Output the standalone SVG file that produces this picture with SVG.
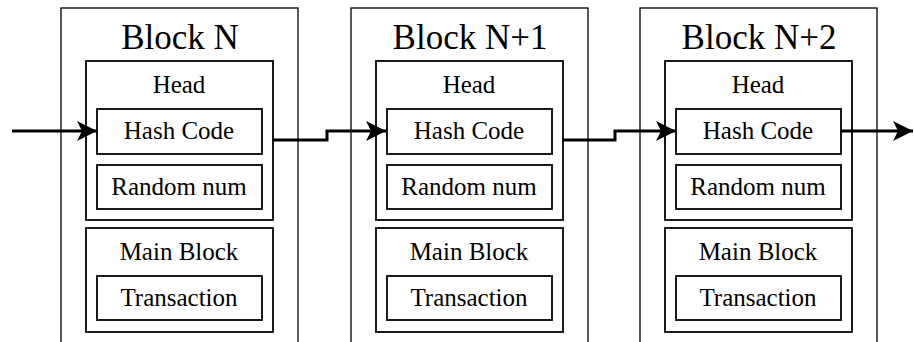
<svg xmlns="http://www.w3.org/2000/svg" width="914" height="342" viewBox="0 0 914 342">
<style>
.outer{fill:#fff;stroke:#000;stroke-width:1.3}
.box{fill:none;stroke:#000;stroke-width:1.8}
text{font-family:"Liberation Serif","Times New Roman",serif;fill:#000;text-anchor:middle}
.title{font-size:35px}
.lbl{font-size:25px}
.conn{fill:none;stroke:#000;stroke-width:3}
</style>
<defs>
<marker id="arr" markerUnits="userSpaceOnUse" markerWidth="22" markerHeight="20" refX="20" refY="10" orient="auto">
<path d="M0,0 L20,10 L0,20 L5,10 Z" fill="#000"/>
</marker>
</defs>
<g id="block-n" transform="translate(0,0)">
<rect class="outer" x="61" y="8" width="237" height="345"/>
<text class="title" x="180" y="49">Block N</text>
<rect class="box" x="86" y="61" width="187" height="159"/>
<text class="lbl" x="179" y="93">Head</text>
<rect class="box" x="97" y="109" width="165" height="45"/>
<text class="lbl" x="179" y="139">Hash Code</text>
<rect class="box" x="97" y="165" width="165" height="44"/>
<text class="lbl" x="179" y="195">Random num</text>
<rect class="box" x="86" y="228" width="187" height="104"/>
<text class="lbl" x="179" y="260">Main Block</text>
<rect class="box" x="97" y="276" width="165" height="44"/>
<text class="lbl" x="179" y="306">Transaction</text>
</g>
<g id="block-n1" transform="translate(290,0)">
<rect class="outer" x="61" y="8" width="237" height="345"/>
<text class="title" x="180" y="49">Block N+1</text>
<rect class="box" x="86" y="61" width="187" height="159"/>
<text class="lbl" x="179" y="93">Head</text>
<rect class="box" x="97" y="109" width="165" height="45"/>
<text class="lbl" x="179" y="139">Hash Code</text>
<rect class="box" x="97" y="165" width="165" height="44"/>
<text class="lbl" x="179" y="195">Random num</text>
<rect class="box" x="86" y="228" width="187" height="104"/>
<text class="lbl" x="179" y="260">Main Block</text>
<rect class="box" x="97" y="276" width="165" height="44"/>
<text class="lbl" x="179" y="306">Transaction</text>
</g>
<g id="block-n2" transform="translate(579,0)">
<rect class="outer" x="61" y="8" width="237" height="345"/>
<text class="title" x="180" y="49">Block N+2</text>
<rect class="box" x="86" y="61" width="187" height="159"/>
<text class="lbl" x="179" y="93">Head</text>
<rect class="box" x="97" y="109" width="165" height="45"/>
<text class="lbl" x="179" y="139">Hash Code</text>
<rect class="box" x="97" y="165" width="165" height="44"/>
<text class="lbl" x="179" y="195">Random num</text>
<rect class="box" x="86" y="228" width="187" height="104"/>
<text class="lbl" x="179" y="260">Main Block</text>
<rect class="box" x="97" y="276" width="165" height="44"/>
<text class="lbl" x="179" y="306">Transaction</text>
</g>
<g id="connectors">
<path class="conn" d="M12,131 L97,131" marker-end="url(#arr)"/>
<path class="conn" d="M273,140 L327,140 L327,131 L386,131" marker-end="url(#arr)"/>
<path class="conn" d="M563,140 L615,140 L615,131 L676,131" marker-end="url(#arr)"/>
<path class="conn" d="M841,131 L913,131" marker-end="url(#arr)"/>
</g>
</svg>
